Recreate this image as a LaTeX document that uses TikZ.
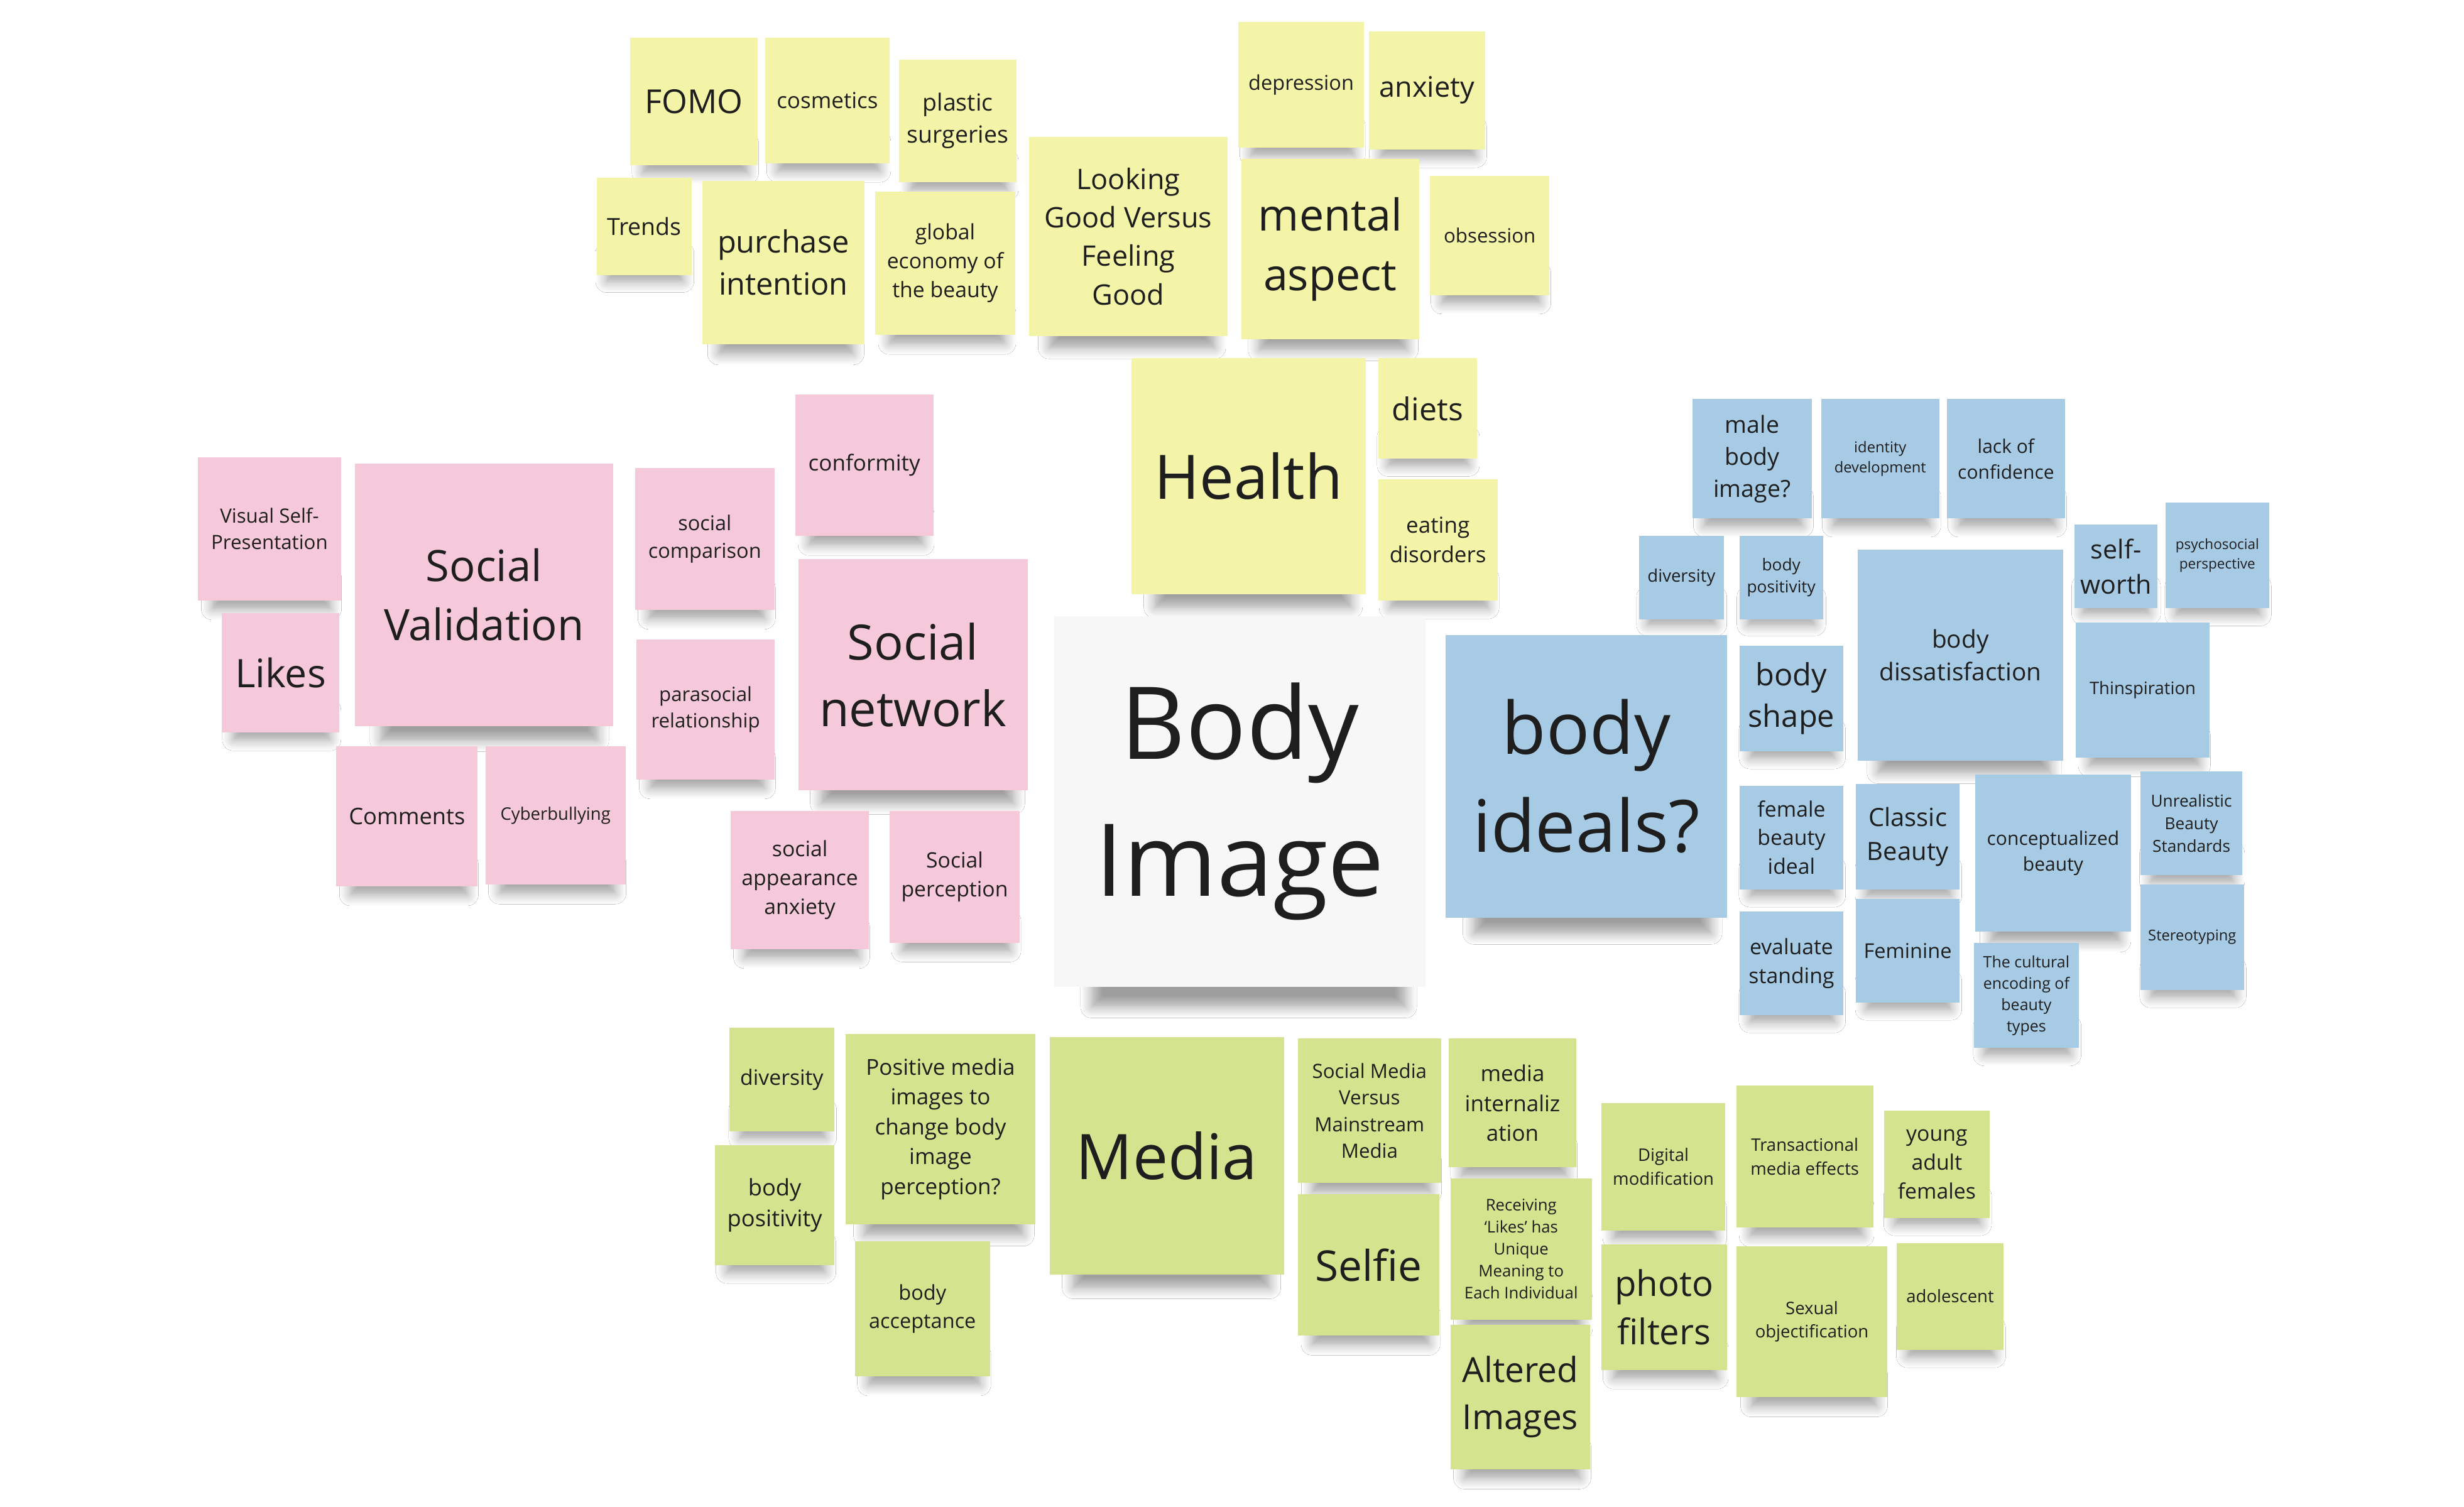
\documentclass[tikz,border=0pt]{standalone}
\usepackage{fontspec}
\setmainfont{Open Sans}
\usetikzlibrary{shadows.blur}
\definecolor{ynote}{HTML}{F4F4A8}
\definecolor{pnote}{HTML}{F6C9DA}
\definecolor{bnote}{HTML}{A8CBE5}
\definecolor{gnote}{HTML}{D4E48E}
\definecolor{wnote}{HTML}{F6F7F6}
\definecolor{ink}{HTML}{1E1E1E}
\tikzset{
  note/.style={draw=none, inner sep=2pt, align=center, text=ink},
  notecast/.style={blur shadow={shadow xshift=0pt, shadow yshift=0pt, shadow opacity=38,
      shadow scale=1, shadow blur radius=7pt, shadow blur steps=8}}
}
\newcommand\stk[8]{%
  \pgfmathsetmacro\cx{(#3+#5)/2}%
  \pgfmathsetmacro\cy{(#4+#6)/2}%
  \pgfmathsetmacro\ww{#5-#3}%
  \pgfmathsetmacro\hh{#6-#4}%
  \pgfmathsetmacro\lh{#7*1.36}%
  \pgfmathsetmacro\sa{#3+0.1*\ww}%
  \pgfmathsetmacro\sb{#5-0.04*\ww-3}%
  \pgfmathsetmacro\sc{#6-14}%
  \pgfmathsetmacro\sd{#6+1+0.05*\hh}%
  \path[notecast] (\sa,\sc) rectangle (\sb,\sd);
  \node[note, fill=#2, minimum width=\ww pt, minimum height=\hh pt,
    font=\fontsize{#7}{\lh}\selectfont] (#1) at (\cx,\cy) {#8};}
\begin{document}
\begin{tikzpicture}[x=1pt,y=-1pt]
\useasboundingbox[fill=white] (0,0) rectangle (1568,959);
% ---------- yellow: health ----------
\stk{fomo}{ynote}{401}{24}{482}{105}{21}{FOMO}
\stk{cosmetics}{ynote}{487}{24}{566}{104}{14}{cosmetics}
\stk{plastic}{ynote}{572}{38}{647}{116}{15}{plastic\\surgeries}
\stk{trends}{ynote}{380}{113}{440}{175}{15}{Trends}
\stk{purchase}{ynote}{447}{115}{550}{219}{19.5}{purchase\\intention}
\stk{global}{ynote}{557}{122}{646}{213}{13.5}{global\\economy of\\the beauty}
\stk{looking}{ynote}{655}{87}{781}{214}{18}{Looking\\Good Versus\\Feeling\\Good}
\stk{depression}{ynote}{788}{14}{868}{94}{13}{depression}
\stk{anxiety}{ynote}{871}{20}{945}{95}{18}{anxiety}
\stk{mental}{ynote}{790}{101}{903}{216}{28}{mental\\aspect}
\stk{obsession}{ynote}{910}{112}{986}{188}{12.5}{obsession}
\stk{health}{ynote}{720}{228}{869}{378}{39}{Health}
\stk{diets}{ynote}{877}{228}{940}{292}{20}{diets}
\stk{eating}{ynote}{877}{305}{953}{382}{14}{eating\\disorders}
% ---------- pink: social ----------
\stk{visual}{pnote}{126}{291}{217}{382}{12.5}{Visual Self-\\Presentation}
\stk{socval}{pnote}{226}{295}{390}{462}{27.5}{Social\\Validation}
\stk{likes}{pnote}{141}{390}{216}{466}{25}{Likes}
\stk{soccomp}{pnote}{404}{298}{493}{388}{13}{social\\comparison}
\stk{conformity}{pnote}{506}{251}{594}{341}{14}{conformity}
\stk{parasocial}{pnote}{405}{407}{493}{496}{12.5}{parasocial\\relationship}
\stk{socnet}{pnote}{508}{356}{654}{503}{31}{Social\\network}
\stk{comments}{pnote}{214}{475}{304}{564}{14.5}{Comments}
\stk{cyber}{pnote}{309}{475}{398}{563}{11}{Cyberbullying}
\stk{socanx}{pnote}{465}{516}{553}{604}{13.5}{social\\appearance\\anxiety}
\stk{socperc}{pnote}{566}{516}{649}{600}{13.5}{Social\\perception}
% ---------- centre ----------
\stk{bodyimage}{wnote}{671}{392}{907}{628}{64}{Body\\Image}
% ---------- blue: ideals ----------
\stk{male}{bnote}{1077}{254}{1153}{330}{15}{male\\body\\image?}
\stk{identity}{bnote}{1159}{254}{1234}{330}{9.5}{identity\\development}
\stk{lack}{bnote}{1239}{254}{1314}{330}{12}{lack of\\confidence}
\stk{bdiversity}{bnote}{1043}{341}{1097}{394}{11}{diversity}
\stk{bpos}{bnote}{1107}{341}{1160}{394}{10.5}{body\\positivity}
\stk{selfworth}{bnote}{1320}{334}{1373}{387}{16.5}{self-\\worth}
\stk{psycho}{bnote}{1378}{320}{1444}{387}{9}{psychosocial\\perspective}
\stk{dissat}{bnote}{1182}{350}{1313}{484}{15.5}{body\\dissatisfaction}
\stk{ideals}{bnote}{920}{404}{1099}{584}{46}{body\\ideals?}
\stk{shape}{bnote}{1107}{411}{1173}{478}{19.5}{body\\shape}
\stk{thinsp}{bnote}{1321}{396}{1406}{482}{11}{Thinspiration}
\stk{female}{bnote}{1107}{500}{1173}{566}{13.5}{female\\beauty\\ideal}
\stk{classic}{bnote}{1181}{499}{1247}{566}{16}{Classic\\Beauty}
\stk{concept}{bnote}{1257}{493}{1356}{593}{12}{conceptualized\\beauty}
\stk{unreal}{bnote}{1362}{491}{1427}{557}{10.5}{Unrealistic\\Beauty\\Standards}
\stk{evaluate}{bnote}{1107}{580}{1173}{646}{13.5}{evaluate\\standing}
\stk{feminine}{bnote}{1181}{572}{1247}{638}{13}{Feminine}
\stk{cultural}{bnote}{1256}{600}{1323}{667}{10}{The cultural\\encoding of\\beauty\\types}
\stk{stereo}{bnote}{1362}{563}{1428}{630}{9.5}{Stereotyping}
% ---------- green: media ----------
\stk{gdiversity}{gnote}{464}{654}{531}{720}{13.5}{diversity}
\stk{positive}{gnote}{538}{658}{659}{779}{14}{Positive media\\images to\\change body\\image\\perception?}
\stk{media}{gnote}{668}{660}{817}{811}{40}{Media}
\stk{smvsm}{gnote}{826}{661}{917}{753}{12.5}{Social Media\\Versus\\Mainstream\\Media}
\stk{internal}{gnote}{922}{661}{1003}{743}{14}{media\\internaliz\\ation}
\stk{gpos}{gnote}{455}{729}{531}{805}{14.5}{body\\positivity}
\stk{digital}{gnote}{1019}{702}{1098}{783}{11}{Digital\\modification}
\stk{transact}{gnote}{1105}{691}{1192}{781}{11}{Transactional\\media effects}
\stk{young}{gnote}{1199}{707}{1266}{775}{13.5}{young\\adult\\females}
\stk{receiving}{gnote}{923}{750}{1013}{840}{10.3}{Receiving\\‘Likes’ has\\Unique\\Meaning to\\Each Individual}
\stk{selfie}{gnote}{826}{760}{916}{850}{27}{Selfie}
\stk{accept}{gnote}{544}{790}{630}{876}{13}{body\\acceptance}
\stk{photo}{gnote}{1019}{792}{1099}{872}{22.5}{photo\\filters}
\stk{sexual}{gnote}{1105}{793}{1201}{889}{11}{Sexual\\objectification}
\stk{adolescent}{gnote}{1207}{791}{1275}{859}{11}{adolescent}
\stk{altered}{gnote}{923}{843}{1012}{935}{22}{Altered\\Images}
\end{tikzpicture}
\end{document}
